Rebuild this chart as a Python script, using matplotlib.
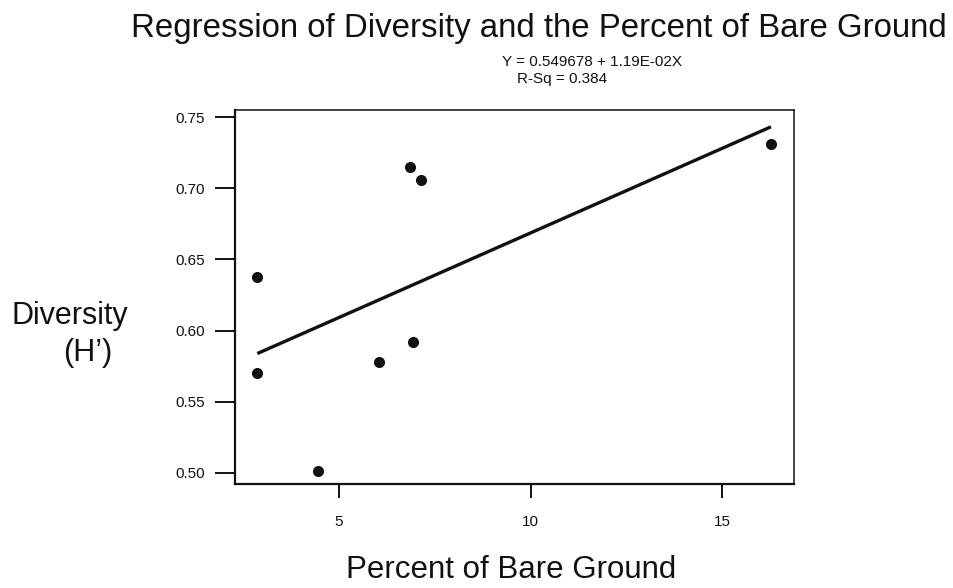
import matplotlib
matplotlib.use("Agg")
import matplotlib.pyplot as plt
import numpy as np

plt.rcParams['font.family'] = ['Liberation Sans', 'DejaVu Sans']

# Data
bare_ground = [2.87, 2.87, 4.45, 6.04, 6.94, 6.85, 7.14, 16.27]
diversity = [0.638, 0.570, 0.501, 0.578, 0.592, 0.715, 0.706, 0.731]
intercept = 0.549678
slope = 1.19e-02
x_ticks = [5, 10, 15]
y_ticks = [0.50, 0.55, 0.60, 0.65, 0.70, 0.75]

fig = plt.figure(figsize=(9.54, 5.88), dpi=100)
ax = fig.add_axes([235/954, 1-484/588, (794-235)/954, (484-110)/588])

ink = '#111111'
ax.scatter(bare_ground, diversity, s=64, color=ink, zorder=3, linewidths=0)
xl = np.array([min(bare_ground), max(bare_ground)])
ax.plot(xl, intercept + slope*xl, color=ink, lw=2.4, solid_capstyle='butt', zorder=2)

ax.set_xlim(2.288, 16.87)
ax.set_ylim(0.4921, 0.7551)
ax.set_xticks(x_ticks)
ax.set_xticklabels([str(t) for t in x_ticks])
ax.set_yticks(y_ticks)
ax.set_yticklabels([f"{t:.2f}" for t in y_ticks])

ax.tick_params(axis='y', direction='out', length=14.4, width=1.4, pad=7, labelsize=11, colors=ink)
ax.tick_params(axis='x', direction='out', length=10, width=1.4, pad=12, labelsize=11, colors=ink)
for s in ['left', 'bottom']:
    ax.spines[s].set_linewidth(1.6)
    ax.spines[s].set_color(ink)
for s in ['top', 'right']:
    ax.spines[s].set_linewidth(1.1)
    ax.spines[s].set_color(ink)

fig.text(539/954, 1-28/588, "Regression of Diversity and the Percent of Bare Ground",
         ha='center', va='center', fontsize=23.8, color=ink)
fig.text(592/954, 1-62/588, "Y = 0.549678 + 1.19E-02X", ha='center', va='center',
         fontsize=11, color=ink)
fig.text(562/954, 1-79/588, "R-Sq = 0.384", ha='center', va='center',
         fontsize=11, color=ink)
fig.text(12/954, 1-316/588, "Diversity", ha='left', va='center', fontsize=22, color=ink)
fig.text(63/954, 1-353/588, "(H\u2019)", ha='left', va='center', fontsize=22, color=ink)
fig.text(511/954, 1-570/588, "Percent of Bare Ground", ha='center', va='center',
         fontsize=22.5, color=ink)

fig.savefig("out.png", dpi=100, facecolor='white')
